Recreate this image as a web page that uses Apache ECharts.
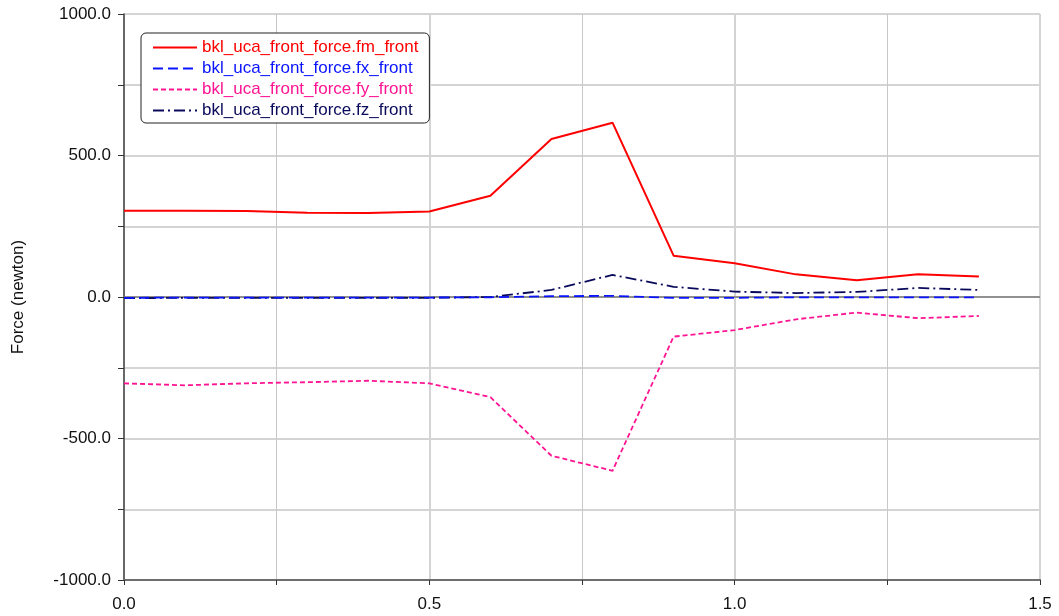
<!DOCTYPE html>
<html>
<head>
<meta charset="utf-8">
<script src="https://cdn.jsdelivr.net/npm/echarts@6/dist/echarts.min.js"></script>
<style>
  html, body { margin: 0; padding: 0; background: #ffffff; }
  #chart { width: 1059px; height: 616px; }
</style>
</head>
<body>
<div id="chart"></div>
<script>
// Time samples (s)
const timeValues = [0.0, 0.1, 0.2, 0.3, 0.4, 0.5, 0.6, 0.7, 0.8, 0.9, 1.0, 1.1, 1.2, 1.3, 1.4];

// Force components (newton)
const fmFront = [305, 305, 304, 298, 297, 302, 358, 558, 616, 146, 119, 80, 59, 80, 72];
const fxFront = [-3, -2, -2, -2, -2, -2, -1, 3, 4, -3, -3, -1, -1, -1, -1];
const fyFront = [-305, -312, -305, -301, -296, -305, -354, -561, -614, -140, -117, -79, -55, -75, -67];
const fzFront = [-4, -3, -3, -3, -3, -3, 0, 25, 78, 36, 19, 14, 18, 32, 25];

const seriesNames = [
  'bkl_uca_front_force.fm_front',
  'bkl_uca_front_force.fx_front',
  'bkl_uca_front_force.fy_front',
  'bkl_uca_front_force.fz_front'
];
const seriesColors = ['#ff0000', '#0a14ff', '#ff1493', '#0a0a5c'];
const seriesDash = ['solid', [10, 5], [5, 3], [11, 4, 2, 4]];
const seriesValues = [fmFront, fxFront, fyFront, fzFront];

const FONT = 'Arial, "Liberation Sans", sans-serif';

const chart = echarts.init(document.getElementById('chart'), null, { renderer: 'canvas' });

const series = seriesNames.map((name, i) => ({
  name: name,
  type: 'line',
  data: timeValues.map((t, k) => [t, seriesValues[i][k]]),
  symbol: 'none',
  showSymbol: false,
  animation: false,
  z: 10 - i,
  lineStyle: { color: seriesColors[i], width: i === 0 ? 2 : 1.8, type: seriesDash[i] },
  itemStyle: { color: seriesColors[i] },
  markLine: i === 0 ? {
    silent: true,
    symbol: 'none',
    label: { show: false },
    lineStyle: { color: '#7a7a7a', width: 1.5, type: 'solid' },
    data: [{ yAxis: 0 }],
    animation: false,
    z: 1
  } : undefined
}));

chart.setOption({
  animation: false,
  backgroundColor: '#ffffff',
  grid: { left: 124, right: 19, top: 14, bottom: 36, containLabel: false },
  legend: {
    orient: 'vertical',
    left: 141,
    top: 33,
    padding: [6, 11, 4, 11],
    itemGap: 4,
    itemWidth: 44,
    itemHeight: 14,
    borderColor: '#222',
    borderWidth: 1,
    borderRadius: 5,
    backgroundColor: '#ffffff',
    itemStyle: { opacity: 0 },
    data: seriesNames.map((n, i) => ({
      name: n,
      textStyle: { color: seriesColors[i] }
    })),
    textStyle: { fontFamily: FONT, fontSize: 17 }
  },
  xAxis: {
    type: 'value',
    min: 0,
    max: 1.5,
    interval: 0.5,
    axisLine: { show: true, onZero: false, lineStyle: { color: '#6e6e6e', width: 2 } },
    axisTick: { show: true, inside: false, length: 5, lineStyle: { color: '#333', width: 1 } },
    minorTick: { show: true, splitNumber: 2, length: 5, lineStyle: { color: '#333', width: 1 } },
    splitLine: { show: true, lineStyle: { color: '#d4d4d4', width: 2 } },
    minorSplitLine: { show: true, lineStyle: { color: '#c8c8c8', width: 1 } },
    axisLabel: {
      color: '#111',
      fontFamily: FONT,
      fontSize: 17,
      margin: 16,
      formatter: v => v.toFixed(1)
    }
  },
  yAxis: {
    type: 'value',
    min: -1000,
    max: 1000,
    interval: 500,
    name: 'Force (newton)',
    nameLocation: 'middle',
    nameGap: 97,
    nameRotate: 90,
    nameTextStyle: { color: '#111', fontFamily: FONT, fontSize: 17 },
    axisLine: { show: true, lineStyle: { color: '#444', width: 1.5 } },
    axisTick: { show: true, inside: false, length: 6, lineStyle: { color: '#333', width: 1 } },
    minorTick: { show: true, splitNumber: 2, length: 6, lineStyle: { color: '#333', width: 1 } },
    splitLine: { show: true, lineStyle: { color: '#d4d4d4', width: 2 } },
    minorSplitLine: { show: true, lineStyle: { color: '#d4d4d4', width: 2 } },
    axisLabel: {
      color: '#111',
      fontFamily: FONT,
      fontSize: 17,
      margin: 13,
      formatter: v => v.toFixed(1)
    }
  },
  series: series
});
</script>
</body>
</html>
